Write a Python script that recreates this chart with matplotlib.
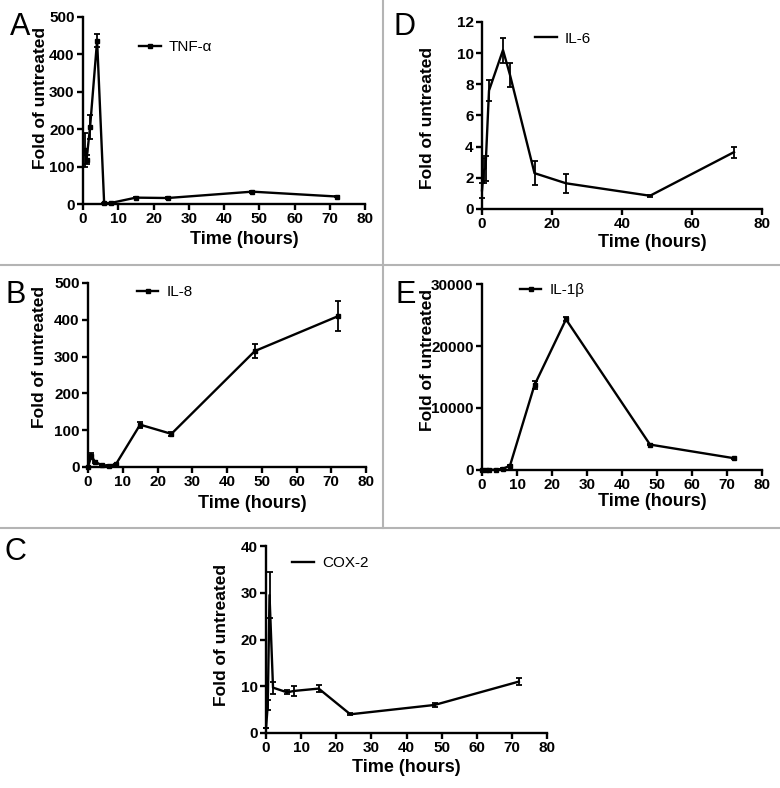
import matplotlib
matplotlib.use("Agg")
import matplotlib.pyplot as plt
from matplotlib.lines import Line2D

plt.rcParams['font.family'] = ['Liberation Sans', 'DejaVu Sans']

# ---- data ----
tnf_t = [0.5, 1, 2, 4, 6, 8, 15, 24, 48, 72]
tnf_v = [145, 118, 205, 437, 2, 3, 17, 16, 33, 20]
tnf_e = [45, 12, 32, 18, 1, 1, 2, 2, 3, 2]

il8_t = [0, 1, 2, 4, 6, 8, 15, 24, 48, 72]
il8_v = [1, 30, 14, 5, 4, 7, 115, 90, 315, 410]
il8_e = [0, 8, 3, 1, 1, 2, 8, 5, 20, 40]

il6_t = [0, 0.5, 1, 2, 6, 8, 15, 24, 48, 72]
il6_v = [1.2, 2.5, 2.6, 7.6, 10.2, 8.6, 2.3, 1.65, 0.85, 3.65]
il6_e = [0.5, 0.8, 0.8, 0.7, 0.8, 0.8, 0.75, 0.6, 0.05, 0.35]

il1b_t = [0, 1, 2, 4, 6, 8, 15, 24, 48, 72]
il1b_v = [1, 10, 30, 50, 200, 700, 13700, 24300, 4100, 1900]
il1b_e = [0, 0, 0, 0, 50, 100, 700, 300, 100, 80]

cox_t = [0, 0.5, 1, 2, 6, 8, 15, 24, 48, 72]
cox_v = [1, 6, 29.5, 9.7, 8.7, 9, 9.5, 4, 6, 11]
cox_e = [0, 1, 5, 1.3, 0.4, 1, 0.7, 0.2, 0.5, 0.8]

W, H = 780, 788
fig = plt.figure(figsize=(7.8, 7.88), dpi=100)

def rect(l, r, t, b):
    return [l / W, 1 - b / H, (r - l) / W, (b - t) / H]

panels = [
    dict(label='TNF-α', r=rect(83, 365, 17, 204), t=tnf_t, v=tnf_v, e=tnf_e,
         ylim=500, yt=range(0, 501, 100), xt=range(0, 81, 10), mk='s',
         leg=(0.199, 0.84), xl=(0.571, -0.19), yl=(-0.152, 0.567)),
    dict(label='IL-6', r=rect(482, 762, 22, 209), t=il6_t, v=il6_v, e=il6_e,
         ylim=12, yt=range(0, 13, 2), xt=range(0, 81, 20), mk=None,
         leg=(0.19, 0.91), xl=(0.607, -0.178), yl=(-0.193, 0.489)),
    dict(label='IL-8', r=rect(88, 366, 283, 467), t=il8_t, v=il8_v, e=il8_e,
         ylim=500, yt=range(0, 501, 100), xt=range(0, 81, 10), mk='s',
         leg=(0.176, 0.95), xl=(0.59, -0.196), yl=(-0.173, 0.6)),
    dict(label='IL-1β', r=rect(482, 762, 284, 470), t=il1b_t, v=il1b_v, e=il1b_e,
         ylim=30000, yt=range(0, 30001, 10000), xt=range(0, 81, 10), mk='s',
         leg=(0.136, 0.968), xl=(0.607, -0.172), yl=(-0.196, 0.59)),
    dict(label='COX-2', r=rect(266, 547, 546, 733), t=cox_t, v=cox_v, e=cox_e,
         ylim=40, yt=range(0, 41, 10), xt=range(0, 81, 10), mk=None,
         leg=(0.093, 0.909), xl=(0.50, -0.185), yl=(-0.157, 0.524)),
]

for p in panels:
    ax = fig.add_axes(p['r'])
    ax.errorbar(p['t'], p['v'], yerr=p['e'], fmt='none', ecolor='black',
                capsize=2.5, capthick=1.3, elinewidth=1.3, clip_on=False, zorder=3)
    ax.plot(p['t'], p['v'], color='black', lw=1.7, marker=p['mk'], markersize=3.4,
            label=p['label'], clip_on=False, zorder=4)
    ax.set_xlim(0, 80)
    ax.set_ylim(0, p['ylim'])
    ax.set_xticks(list(p['xt']))
    ax.set_yticks(list(p['yt']))
    for s in ['top', 'right']:
        ax.spines[s].set_visible(False)
    for s in ['left', 'bottom']:
        ax.spines[s].set_linewidth(1.7)
    ax.tick_params(direction='out', length=4, width=1.7, labelsize=11, pad=2)
    for lab in ax.get_xticklabels() + ax.get_yticklabels():
        lab.set_fontweight('bold')
    ax.set_xlabel('Time (hours)', fontsize=13, fontweight='bold')
    ax.xaxis.set_label_coords(*p['xl'])
    ax.xaxis.label.set_va('center')
    ax.set_ylabel('Fold of untreated', fontsize=12.5, fontweight='bold')
    ax.yaxis.set_label_coords(*p['yl'])
    ax.yaxis.label.set_va('center')
    ax.legend(frameon=False, loc='center left', bbox_to_anchor=p['leg'],
              borderaxespad=0, borderpad=0, handlelength=1.4, handletextpad=0.55,
              fontsize=11)

# panel letters
for ch, x, y in [('A', 10, 35), ('D', 393, 35), ('B', 6, 303), ('E', 396, 303), ('C', 4, 560)]:
    fig.text(x / W, 1 - y / H, ch, fontsize=22, va='baseline', ha='left')

# grey dividers
gc = '#b4b4b4'
fig.add_artist(Line2D([0, 1], [1 - 265 / H, 1 - 265 / H], color=gc, lw=1.5, transform=fig.transFigure))
fig.add_artist(Line2D([0, 1], [1 - 528 / H, 1 - 528 / H], color=gc, lw=1.5, transform=fig.transFigure))
fig.add_artist(Line2D([383 / W, 383 / W], [1, 1 - 528 / H], color=gc, lw=1.5, transform=fig.transFigure))

fig.savefig('out.png', dpi=100, facecolor='white')
